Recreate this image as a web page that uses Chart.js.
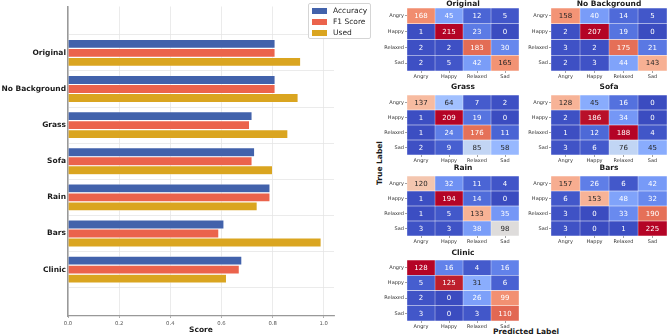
<!DOCTYPE html>
<html><head><meta charset="utf-8">
<script src="https://cdn.jsdelivr.net/npm/chart.js@4/dist/chart.umd.min.js"></script>
<style>
html,body{margin:0;padding:0;background:#fff;}
#wrap{position:relative;width:669px;height:335px;overflow:hidden;font-family:"DejaVu Sans",sans-serif;}
canvas{position:absolute;}
.lbl{position:absolute;font-weight:bold;font-size:7.5px;color:#1a1a1a;white-space:nowrap;line-height:1;}
#legend{position:absolute;left:308px;top:3px;width:63px;height:36px;border:1px solid #d5d5d5;border-radius:2px;background:rgba(255,255,255,0.85);box-sizing:border-box;}
.li{position:absolute;left:3px;height:11px;font-size:7.5px;color:#262626;line-height:11px;white-space:nowrap;}
.li span.p{display:inline-block;width:15px;height:5.5px;vertical-align:middle;margin-right:6px;}
</style></head><body>
<div id="wrap">
<canvas id="bar" width="340" height="335" style="left:0;top:0"></canvas>
<div id="legend"></div>
<div class="lbl" style="left:379.5px;top:163px;transform:translate(-50%,-50%) rotate(-90deg);">True Label</div>
<div class="lbl" style="left:526px;top:328px;transform:translateX(-50%);">Predicted Label</div>
</div>
<script>
// ---- data ----
const scenarios = ['Original','No Background','Grass','Sofa','Rain','Bars','Clinic'];
const accuracy = [0.81,0.81,0.72,0.73,0.79,0.61,0.68];
const f1Score  = [0.81,0.81,0.71,0.72,0.79,0.59,0.67];
const used     = [0.91,0.90,0.86,0.80,0.74,0.99,0.62];
const scoreTicks = [0.0,0.2,0.4,0.6,0.8,1.0];
const emotions = ['Angry','Happy','Relaxed','Sad'];
const cmOriginal     = [[168,45,12,5],[1,215,23,0],[2,2,183,30],[2,5,42,165]];
const cmNoBackground = [[158,40,14,5],[2,207,19,0],[3,2,175,21],[2,3,44,143]];
const cmGrass        = [[137,64,7,2],[1,209,19,0],[1,24,176,11],[2,9,85,58]];
const cmSofa         = [[128,45,16,0],[2,186,34,0],[1,12,188,4],[3,6,76,45]];
const cmRain         = [[120,32,11,4],[1,194,14,0],[1,5,133,35],[3,3,38,98]];
const cmBars         = [[157,26,6,42],[6,153,48,32],[3,0,33,190],[3,0,1,225]];
const cmClinic       = [[128,16,4,16],[5,125,31,6],[2,0,26,99],[3,0,3,110]];

// ---- style ----
const FONT = '"DejaVu Sans", sans-serif';
const COL_ACC = '#4262ab', COL_F1 = '#eb634c', COL_USED = '#daa520';
const COOLWARM = [[59,76,192],[68,90,204],[77,104,215],[87,117,225],[98,130,234],[108,142,241],[119,154,247],[130,165,251],[141,176,254],[152,185,255],[163,194,255],[174,201,253],[184,208,249],[194,213,244],[204,217,238],[213,219,230],[221,221,221],[229,216,209],[236,211,197],[241,204,185],[245,196,173],[247,187,160],[247,177,148],[247,166,135],[244,154,123],[241,141,111],[236,127,99],[229,112,88],[222,96,77],[213,80,66],[203,62,56],[192,40,47],[180,4,38]];
function coolwarm(t){
  t=Math.max(0,Math.min(1,t)); const f=t*(COOLWARM.length-1); const i=Math.min(Math.floor(f),COOLWARM.length-2); const u=f-i;
  return COOLWARM[i].map((c,k)=>Math.round(c+(COOLWARM[i+1][k]-c)*u));
}
function lum(rgb){ const l=rgb.map(c=>{c/=255;return c<=0.03928?c/12.92:Math.pow((c+0.055)/1.055,2.4);}); return 0.2126*l[0]+0.7152*l[1]+0.0722*l[2]; }

// ---- legend (HTML) ----
const legendItems=[['Accuracy',COL_ACC],['F1 Score',COL_F1],['Used',COL_USED]];
document.getElementById('legend').innerHTML = legendItems.map((it,i)=>`<div class="li" style="top:${1+i*11}px"><span class="p" style="background:${it[1]}"></span>${it[0]}</div>`).join('');

// ---- bar chart ----
new Chart(document.getElementById('bar'),{
  type:'bar',
  data:{datasets:[
    {label:'Accuracy',data:accuracy.map((v,i)=>({x:v,y:i})),backgroundColor:COL_ACC},
    {label:'F1 Score',data:f1Score.map((v,i)=>({x:v,y:i})),backgroundColor:COL_F1},
    {label:'Used',data:used.map((v,i)=>({x:v,y:i})),backgroundColor:COL_USED}
  ]},
  options:{
    indexAxis:'y',responsive:false,animation:false,devicePixelRatio:1,
    layout:{padding:{top:2,right:6,left:0,bottom:0}},
    datasets:{bar:{categoryPercentage:0.75,barPercentage:1,borderWidth:0.6,borderColor:'rgba(255,255,255,0.6)'}},
    plugins:{legend:{display:false},tooltip:{enabled:false}},
    scales:{
      x:{type:'linear',min:0,max:1.04,
        afterBuildTicks:s=>{s.ticks=scoreTicks.map(v=>({value:v}));},
        ticks:{callback:v=>Number(v).toFixed(1),font:{size:5.3,family:FONT},color:'#555',padding:2,maxRotation:0},
        grid:{color:'#e6e6e6',lineWidth:0.8,tickLength:2,tickColor:'#999'},
        border:{color:'#999',width:1.2},
        title:{display:true,text:'Score',font:{size:7.5,weight:'bold',family:FONT,lineHeight:1.2},color:'#1a1a1a',padding:{top:0,bottom:0}},
        afterFit:s=>{s.height=19;}},
      y:{type:'linear',reverse:true,min:-0.672,max:6.672,
        afterBuildTicks:s=>{s.ticks=scenarios.map((_,i)=>({value:i}));},
        ticks:{callback:(v,i)=>scenarios[i],font:{size:7.5,weight:'bold',family:FONT},color:'#1a1a1a',padding:2},
        grid:{color:'#e6e6e6',lineWidth:0.8,tickLength:0},
        border:{color:'#999',width:1.5},
        afterFit:s=>{s.width=68;}}
    }
  }
});

// ---- heatmaps ----
const cellText={id:'cellText',afterDatasetsDraw(chart){
  const ctx=chart.ctx; ctx.save(); ctx.font='7px '+FONT; ctx.textAlign='center'; ctx.textBaseline='middle';
  chart.data.datasets.forEach((ds,di)=>{
    chart.getDatasetMeta(di).data.forEach((el,ri)=>{
      const p=el.getProps(['x','y','base'],true);
      ctx.fillStyle=ds.textColors[ri]; ctx.fillText(String(ds.values[ri]),(p.x+p.base)/2,p.y+0.5);
    });
  });
  ctx.restore();
}};
const panelTitle={id:'panelTitle',afterDraw(chart,args,opts){
  const ctx=chart.ctx, a=chart.chartArea; ctx.save();
  ctx.font='bold 7.5px '+FONT; ctx.fillStyle='#1a1a1a'; ctx.textAlign='center'; ctx.textBaseline='middle';
  ctx.fillText(opts.text,(a.left+a.right)/2,opts.y); ctx.restore();
}};
function heatmap(title,matrix,cl,ct,cw,ch,titleY){
  const flat=matrix.flat(); const vmin=Math.min(...flat), vmax=Math.max(...flat);
  const YW=37, XH=10;
  const top=Math.floor(titleY-5);
  const cv=document.createElement('canvas');
  cv.width=Math.round(YW+cw); cv.height=Math.round(ct-top+ch+XH);
  cv.style.left=Math.round(cl-YW)+'px'; cv.style.top=top+'px';
  document.getElementById('wrap').appendChild(cv);
  const datasets=emotions.map((pred,c)=>{
    const vals=matrix.map(r=>r[c]);
    const rgbs=vals.map(v=>coolwarm((v-vmin)/(vmax-vmin)));
    return {label:pred,data:emotions.map(()=>1),values:vals,
      backgroundColor:rgbs.map(c=>`rgb(${c[0]},${c[1]},${c[2]})`),
      textColors:rgbs.map(c=>lum(c)>0.408?'#262626':'#ffffff')};
  });
  new Chart(cv,{type:'bar',data:{labels:emotions,datasets},plugins:[cellText,panelTitle],
    options:{indexAxis:'y',responsive:false,animation:false,devicePixelRatio:1,
      layout:{padding:{top:ct-top,left:0,right:0,bottom:0}},
      datasets:{bar:{barPercentage:1,categoryPercentage:1,borderWidth:0.5,borderColor:'rgba(255,255,255,0.3)',borderSkipped:false}},
      plugins:{legend:{display:false},tooltip:{enabled:false},title:{display:false},
        panelTitle:{text:title,y:titleY-top}},
      scales:{
        x:{type:'linear',stacked:true,min:0,max:4,
          afterBuildTicks:s=>{s.ticks=emotions.map((_,i)=>({value:i+0.5}));},
          ticks:{callback:(v,i)=>emotions[i],font:{size:5,family:FONT},color:'#333',padding:1,maxRotation:0,autoSkip:false},
          grid:{drawOnChartArea:false,tickLength:2,color:'#444',lineWidth:0.5},border:{display:false},
          afterFit:s=>{s.height=XH;}},
        y:{type:'category',stacked:true,offset:true,
          ticks:{font:{size:5,family:FONT},color:'#333',padding:1,autoSkip:false},
          grid:{drawOnChartArea:false,tickLength:2,color:'#444',lineWidth:0.5,offset:false},border:{display:false},
          afterFit:s=>{s.width=YW;}}
      }}});
}
heatmap('Original',cmOriginal,407,8,111.5,62.5,3.7);
heatmap('No Background',cmNoBackground,551,8,116,62.5,3.7);
heatmap('Grass',cmGrass,407,95,111.5,60,87);
heatmap('Sofa',cmSofa,551,95,116,60,87);
heatmap('Rain',cmRain,407,176,111.5,59.5,168.3);
heatmap('Bars',cmBars,551,176,116,59.5,168.3);
heatmap('Clinic',cmClinic,407,260,111.5,61,253);
</script>
</body></html>
